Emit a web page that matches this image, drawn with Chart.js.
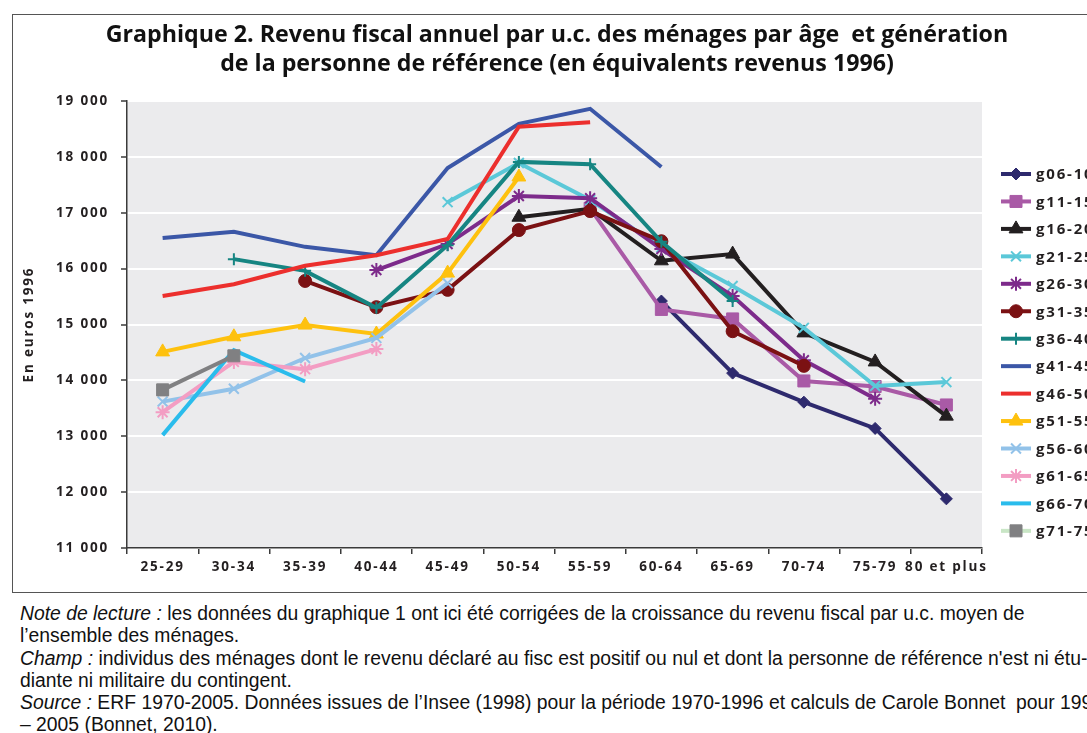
<!DOCTYPE html>
<html><head><meta charset="utf-8">
<script src="https://cdn.jsdelivr.net/npm/chart.js@4"></script>
<style>
html,body{margin:0;padding:0;background:#fff;overflow:hidden;width:1087px;height:733px;}
#frame{position:absolute;left:12px;top:14px;width:1200px;height:577px;border-left:1.5px solid #555;border-top:1.5px solid #555;border-bottom:1.5px solid #555;}
#c{position:absolute;left:0;top:0;}
.title{position:absolute;left:0;width:1114px;text-align:center;font-family:"Open Sans",sans-serif;font-weight:bold;white-space:nowrap;color:#111;line-height:28px;font-size:24px;}
#notes{position:absolute;left:20px;top:603px;font-family:"Liberation Sans",sans-serif;font-size:17px;line-height:22.3px;white-space:nowrap;color:#111;}
#notes div{width:max-content;}
#notes i{font-style:italic;}
</style></head>
<body>
<div id="frame"></div>
<canvas id="c" width="1087" height="592"></canvas>
<div class="title" id="t1" style="top:19px">Graphique 2. Revenu fiscal annuel par u.c. des ménages par âge&nbsp; et génération</div>
<div class="title" id="t2" style="top:48px">de la personne de référence (en équivalents revenus 1996)</div>
<div id="notes">
<div id="l1"><i>Note de lecture :</i> les données du graphique 1 ont ici été corrigées de la croissance du revenu fiscal par u.c. moyen de</div>
<div>l’ensemble des ménages.</div>
<div><i>Champ :</i> individus des ménages dont le revenu déclaré au fisc est positif ou nul et dont la personne de référence n'est ni étu-</div>
<div>diante ni militaire du contingent.</div>
<div><i>Source :</i> ERF 1970-2005. Données issues de l’Insee (1998) pour la période 1970-1996 et calculs de Carole Bonnet&nbsp; pour 1997</div>
<div>– 2005 (Bonnet, 2010).</div>
</div>
<script>
const categories = ['25-29','30-34','35-39','40-44','45-49','50-54','55-59','60-64','65-69','70-74','75-79','80 et plus'];
const seriesNames = ['g06-10','g11-15','g16-20','g21-25','g26-30','g31-35','g36-40','g41-45','g46-50','g51-55','g56-60','g61-65','g66-70','g71-75'];
const yTicks = [11000,12000,13000,14000,15000,16000,17000,18000,19000];

const g06_10 = [null,null,null,null,null,null,null,15420,14130,13610,13140,11880];
const g11_15 = [null,null,null,null,null,null,17080,15270,15100,13990,13890,13560];
const g16_20 = [null,null,null,null,null,16920,17070,16140,16260,14850,14330,13360];
const g21_25 = [null,null,null,null,17190,17890,17230,16380,15690,14940,13900,13970];
const g26_30 = [null,null,null,15975,16440,17300,17260,16350,15510,14360,13670,null];
const g31_35 = [null,null,15780,15310,15620,16690,17030,16490,14880,14260,null,null];
const g36_40 = [null,16170,15960,15300,16420,17910,17870,16480,15420,null,null,null];
const g41_45 = [16550,16660,16390,16240,17800,18590,18860,17820,null,null,null,null];
const g46_50 = [15510,15720,16050,16240,16530,18540,18620,null,null,null,null,null];
const g51_55 = [14510,14780,14990,14830,15920,17640,null,null,null,null,null,null];
const g56_60 = [13620,13850,14400,14760,15740,null,null,null,null,null,null,null];
const g61_65 = [13430,14330,14200,14560,null,null,null,null,null,null,null,null];
const g66_70 = [13020,14540,13980,null,null,null,null,null,null,null,null,null];
const g71_75 = [13830,14440,null,null,null,null,null,null,null,null,null,null];

const allSeries = [g06_10,g11_15,g16_20,g21_25,g26_30,g31_35,g36_40,g41_45,g46_50,g51_55,g56_60,g61_65,g66_70,g71_75];
const colors = ['#2e2a6e','#a95aa6','#231f20','#5bc8d8','#7d2b8b','#7b1113','#168582','#3b57a7','#ec2f2d','#fec10e','#92c2e9','#f39dc3','#2abcec','#808082'];
const legendLineColors = ['#2e2a6e','#a95aa6','#231f20','#5bc8d8','#7d2b8b','#7b1113','#168582','#3b57a7','#ec2f2d','#fec10e','#92c2e9','#f39dc3','#2abcec','#c9e6c6'];
const styles = ['rectRot','rect','triangle','crossRot','star','circle','cross',false,false,'triangle','crossRot','star',false,'rect'];
const radii = [6,8.5,8,7,7,6.5,6,0,0,8,7,7,0,8.5];

// fit titles / notes widths
(function(){
  const m = document.createElement('canvas').getContext('2d');
  function w(el, font){ m.font = font; return m.measureText(el.textContent).width; }
  const t1 = document.getElementById('t1'), t2 = document.getElementById('t2');
  const s = 24*903/w(t1,'bold 24px "Open Sans"');
  t1.style.fontSize = s+'px'; t2.style.fontSize = s+'px';
  const l1 = document.getElementById('l1');
  const r = l1.getBoundingClientRect().width;
  document.getElementById('notes').style.fontSize = (17*1005/r)+'px';
})();

const datasets = allSeries.map((d,i)=>({
  label: seriesNames[i],
  data: d,
  borderColor: colors[i],
  backgroundColor: colors[i],
  borderWidth: 4,
  pointStyle: styles[i],
  pointRadius: radii[i],
  pointHoverRadius: radii[i],
  pointBorderWidth: (styles[i]==='cross'||styles[i]==='crossRot'||styles[i]==='star') ? 2 : 1,
  pointBorderColor: colors[i],
  pointBackgroundColor: colors[i],
  tension: 0,
  spanGaps: false,
  order: allSeries.length - 1 - i,
  fill: false
}));

const tickFont = {family:'"Open Sans"', weight:'bold', size:13.5};

const bgPlugin = {
  id:'bg',
  beforeDraw(chart){
    const {ctx, chartArea:a} = chart;
    ctx.letterSpacing = '1.8px';
    ctx.save();
    ctx.fillStyle = '#ebebed';
    ctx.fillRect(a.left, a.top, a.right-a.left, a.bottom-a.top);
    ctx.restore();
  },
  afterDraw(chart){
    const ctx = chart.ctx;
    ctx.save();
    ctx.letterSpacing = '1.8px';
    chart.data.datasets.forEach((ds,i)=>{
      const y = 174 + i*27.45;
      ctx.strokeStyle = legendLineColors[i];
      ctx.lineWidth = 4;
      ctx.beginPath(); ctx.moveTo(1001,y); ctx.lineTo(1031,y); ctx.stroke();
      if (ds.pointStyle){
        ctx.fillStyle = ds.pointBackgroundColor;
        ctx.strokeStyle = ds.pointBorderColor;
        ctx.lineWidth = ds.pointBorderWidth;
        Chart.helpers.drawPoint(ctx,{pointStyle:ds.pointStyle, radius:ds.pointRadius, borderWidth:ds.pointBorderWidth, rotation:0}, 1016, y);
      }
      ctx.fillStyle = '#231f20';
      ctx.font = 'bold 15px "Open Sans"';
      ctx.textBaseline = 'middle';
      ctx.textAlign = 'left';
      ctx.fillText(ds.label, 1036, y+1);
    });
    ctx.restore();
  }
};

new Chart(document.getElementById('c'), {
  type:'line',
  data:{labels:categories, datasets},
  plugins:[bgPlugin],
  options:{
    responsive:false, animation:false,
    devicePixelRatio:1,
    layout:{padding:{left:0,right:105,top:101,bottom:0}},
    plugins:{legend:{display:false}, tooltip:{enabled:false}, title:{display:false}},
    scales:{
      x:{
        type:'category',
        offset:true,
        grid:{display:true, drawOnChartArea:false, drawTicks:true, tickLength:6, offset:true, color:'#3a3a3a', lineWidth:1.5},
        border:{display:true, color:'#3a3a3a', width:1.5},
        ticks:{color:'#231f20', font:tickFont, maxRotation:0, minRotation:0, autoSkip:false, padding:5},
        afterFit(s){ s.height = 44; }
      },
      y:{
        min:11000, max:19000,
        afterBuildTicks(s){ s.ticks = yTicks.map(v=>({value:v})); },
        grid:{color:'#ffffff', lineWidth:2, drawTicks:true, tickLength:6, tickColor:'#3a3a3a', tickWidth:1.5},
        border:{display:true, color:'#3a3a3a', width:1.5},
        ticks:{color:'#231f20', font:tickFont, padding:12,
          callback:(v)=>{ const s=String(v); return s.slice(0,s.length-3)+' '+s.slice(-3); }},
        title:{display:true, text:'En euros 1996', color:'#231f20', font:{family:'"Open Sans"', weight:'bold', size:13.5}, padding:{top:21,bottom:0}},
        afterFit(s){ s.width = 127; }
      }
    }
  }
});
</script>
</body></html>
